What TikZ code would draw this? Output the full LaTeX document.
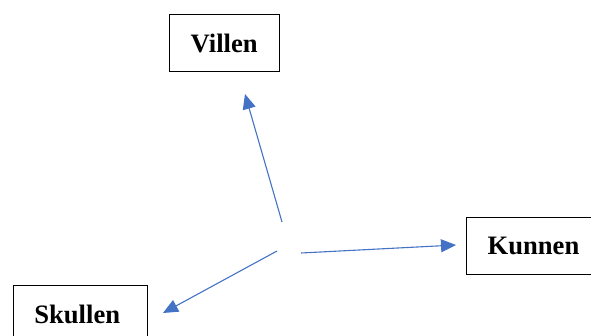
\documentclass[tikz,border=0pt]{standalone}
\usepackage{fontspec}
\setmainfont{Liberation Serif}
\usepackage{tikz,xcolor}
\usetikzlibrary{arrows.meta}

\definecolor{arrowblue}{HTML}{4472C4}

\tikzset{
  namebox/.style={draw=black,line width=1.3pt,anchor=north west,inner xsep=21pt,inner ysep=0pt,
    minimum height=57pt,align=left,font=\fontsize{26.6}{32}\selectfont\bfseries},
  pointer/.style={draw=arrowblue,line width=1.1pt,-{Triangle[length=15pt,width=13pt]}}
}

\begin{document}
\begin{tikzpicture}[x=1pt,y=-1pt]
\useasboundingbox (0,0) rectangle (591,336);

\node[namebox,text width=68pt] (villen) at (169,14) {Villen};
\node[namebox,text width=91pt] (kunnen) at (466,217) {Kunnen};
\node[namebox,text width=92pt] (skullen) at (12.7,285) {Skullen};

% loose ends of the three arrows
\coordinate (vstart) at (282,222); \coordinate (vtip) at (245,94);
\coordinate (kstart) at (301,253); \coordinate (ktip) at (456,245);
\coordinate (sstart) at (277,251); \coordinate (stip) at (163,313);

\draw[pointer] (vstart) -- (vtip);
\draw[pointer] (kstart) -- (ktip);
\draw[pointer] (sstart) -- (stip);

\end{tikzpicture}
\end{document}
